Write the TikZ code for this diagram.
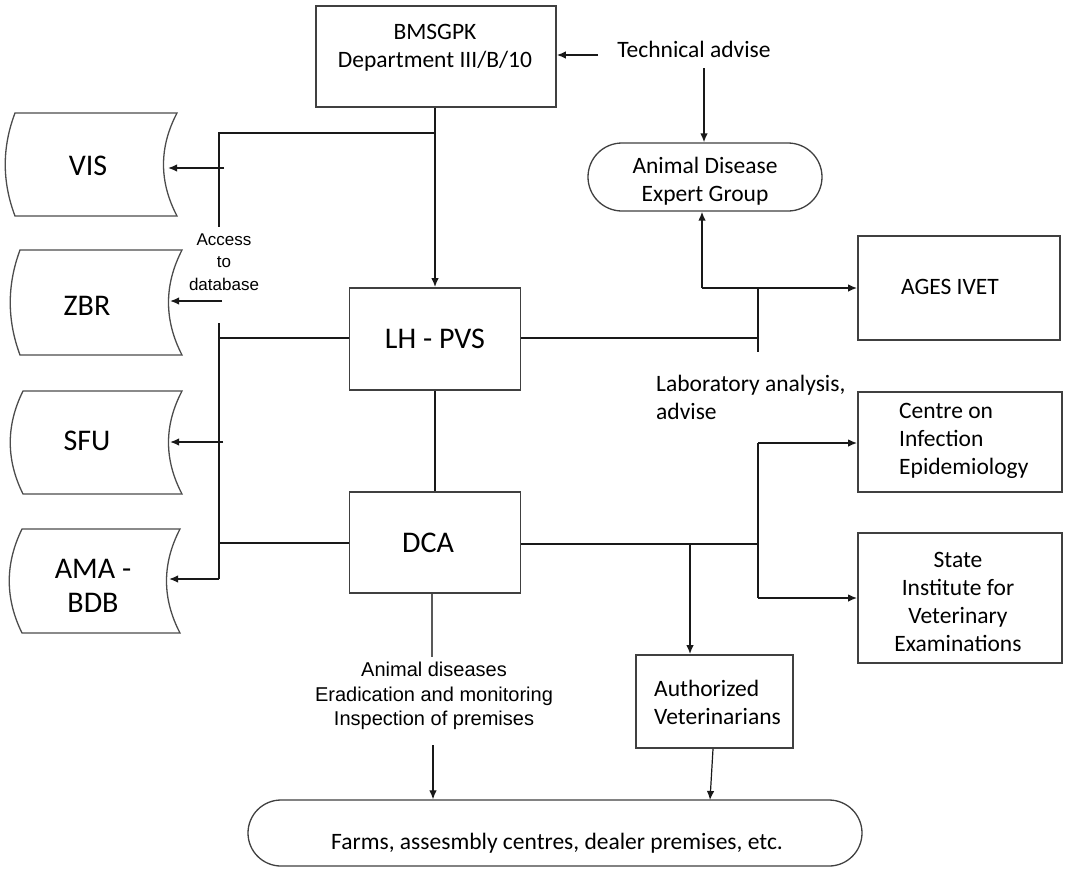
\documentclass[tikz,border=0pt]{standalone}
\usepackage{fontspec}
\setmainfont{Carlito}
\newfontfamily\arialfont{Liberation Sans}
\usetikzlibrary{arrows.meta}
\tikzset{
  box/.style={draw=black!75, line width=1.8pt, rectangle, inner sep=0pt, align=center,
    font=\fontsize{23.5}{28}\selectfont},
  stadium/.style={box, line width=1.3pt},
  big/.style={font=\fontsize{30}{34}\selectfont, inner sep=0pt, align=center},
  lbl/.style={inner sep=0pt, align=left, font=\fontsize{23.5}{28}\selectfont},
  small/.style={inner sep=0pt, align=center, font=\arialfont\fontsize{20}{24.5}\selectfont},
  tiny/.style={inner sep=0pt, align=center, font=\arialfont\fontsize{17}{22.5}\selectfont},
  ln/.style={draw=black!90, line width=1.5pt},
  arr/.style={ln, -{Latex[length=9pt,width=7.5pt]}},
  dbline/.style={draw=black!70, line width=1.3pt},
}
\newcommand\dbshape[7]{% name, left, leftbulge, right, concave, top, bottom
  \draw[dbline] (#2,#6) -- (#4,#6)
    .. controls (#5,{#6+(#7-#6)/3}) and (#5,{#7-(#7-#6)/3}) .. (#4,#7)
    -- (#2,#7)
    .. controls (#3,{#7-(#7-#6)/3}) and (#3,{#6+(#7-#6)/3}) .. (#2,#6) -- cycle;
}
\begin{document}
\begin{tikzpicture}[x=1pt,y=-1pt]
\useasboundingbox[fill=white] (0,0) rectangle (1068,871);

% storage shapes
\dbshape{vis}{15}{2}{177}{159}{113}{216}
\dbshape{zbr}{20}{7}{182}{164}{250}{355}
\dbshape{sfu}{23}{6}{182}{164}{391}{494}
\dbshape{ama}{22}{5}{180}{162}{529}{633}
\node[big] (vis) at (88,166) {VIS};
\node[big] (zbr) at (87,306) {ZBR};
\node[big] (sfu) at (87,441) {SFU};
\node[big] (ama) at (93,586) {AMA -\\BDB};
\coordinate (visin) at (168,168);
\coordinate (zbrin) at (170,301);
\coordinate (sfuin) at (170,442);
\coordinate (amain) at (169,579);

% main boxes
\node[box, minimum width=240pt, minimum height=101pt, anchor=north west] (bms) at (315,5) {};
\node[font=\fontsize{23.5}{28}\selectfont, align=center, inner sep=0pt] (bmst) at (435,48) {BMSGPK\\Department III/B/10};
\node[box, minimum width=171pt, minimum height=102pt] (lh) at (435,339) {};
\node[big] at (435,339) {LH - PVS};
\node[box, minimum width=171pt, minimum height=101pt] (dca) at (435,542.5) {};
\node[big] at (428,543) {DCA};
\node[stadium, minimum width=234pt, minimum height=68pt, rounded corners=34pt] (adeg) at (705,177) {};
\node[lbl, align=center] at (705,181) {Animal Disease\\Expert Group};
\node[box, minimum width=202pt, minimum height=104pt] (ages) at (959,288) {};
\node[lbl] at (950,287) {AGES IVET};
\node[box, minimum width=204pt, minimum height=100pt] (cie) at (960,442) {};
\node[lbl, anchor=west] at (899,441) {Centre on\\Infection\\Epidemiology};
\node[box, minimum width=204pt, minimum height=130pt] (siv) at (960,598) {};
\node[lbl, align=center] at (958,602) {State\\Institute for\\Veterinary\\Examinations};
\node[box, minimum width=157pt, minimum height=93pt] (av) at (714.5,701.5) {};
\node[lbl, anchor=west] at (654,702) {Authorized\\Veterinarians};
\node[stadium, minimum width=614pt, minimum height=66pt, rounded corners=33pt] (farms) at (555,833) {};
\node[font=\fontsize{23.5}{28}\selectfont, inner sep=0pt] at (557,843) {Farms, assesmbly centres, dealer premises, etc.};

% labels
\node[lbl] (tech) at (694,49) {Technical advise};
\node[lbl, anchor=west] (lab) at (656,397) {Laboratory analysis,\\advise};
\node[tiny] (acc) at (224,262) {Access\\to\\database};
\node[small] (animal) at (434,696) {Animal diseases\\Eradication and monitoring\\Inspection of premises};

% junction coordinates
\coordinate (jtop) at (435,133);
\coordinate (jl1) at (219,133);
\coordinate (jl2) at (219,227);
\coordinate (jl3) at (219,323);
\coordinate (jl4) at (219,579);
\coordinate (jlh) at (219,338);
\coordinate (jdca) at (219,543);
\coordinate (jvis) at (224,168);
\coordinate (jzbr) at (222,301);
\coordinate (jsfu) at (223,442);
\coordinate (ra) at (758,338);
\coordinate (rat) at (758,288);
\coordinate (rab) at (758,352);
\coordinate (rag) at (702,288);
\coordinate (rb) at (758,544);
\coordinate (rbt) at (758,443);
\coordinate (rbb) at (758,598);
\coordinate (rav) at (690,544);
\coordinate (techL) at (598,55);
\coordinate (techB) at (704,68);
\coordinate (dcaEnd) at (432,657);
\coordinate (anStart) at (433,745);

% connectors
\draw[arr] (techL) -- (bms.east |- techL);
\draw[arr] (techB) -- (adeg.north -| techB);
\draw[ln] (bms.south -| jtop) -- (jtop) -- (jl1) -- (jl2);
\draw[arr] (jtop) -- (lh.north -| jtop);
\draw[ln] (jl3) -- (jl4);
\draw[arr] (jvis) -- (visin);
\draw[arr] (jzbr) -- (zbrin);
\draw[arr] (jsfu) -- (sfuin);
\draw[arr] (jl4) -- (amain);
\draw[ln] (lh.west |- jlh) -- (jlh);
\draw[ln] (dca.west |- jdca) -- (jdca);
\draw[ln] (lh.south) -- (dca.north);
\draw[ln] (lh.east |- ra) -- (ra);
\draw[ln] (rat) -- (rab);
\draw[arr] (rag) -- (ages.west |- rag);
\draw[arr] (rag) -- (adeg.south -| rag);
\draw[ln] (dca.east |- rb) -- (rb);
\draw[ln] (rbt) -- (rbb);
\draw[arr] (rbt) -- (cie.west |- rbt);
\draw[arr] (rbb) -- (siv.west |- rbb);
\draw[arr] (rav) -- (av.north -| rav);
\draw[ln, draw=black!65] (dca.south -| dcaEnd) -- (dcaEnd);
\draw[arr, line width=1.2pt] (anStart) -- (farms.north -| anStart);
\draw[arr, line width=1.2pt] (av.south -| 713,0) -- (710,800);
\end{tikzpicture}
\end{document}
